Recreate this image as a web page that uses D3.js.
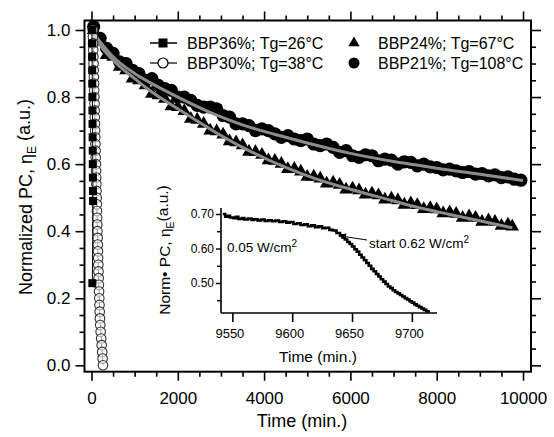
<!DOCTYPE html>
<html><head><meta charset="utf-8">
<script src="https://cdn.jsdelivr.net/npm/d3@7"></script>
<style>
body{margin:0;background:#fff}
text{font-family:"Liberation Sans",Arial,Helvetica,sans-serif;fill:#000}
</style>
</head><body><svg id="c" width="554" height="437"></svg>
<script>
// ---------- data ----------
const xTicks = [0, 2000, 4000, 6000, 8000, 10000];
const yTicks = [0.0, 0.2, 0.4, 0.6, 0.8, 1.0];
const seriesNames = ["BBP36%; Tg=26°C", "BBP30%; Tg=38°C", "BBP24%; Tg=67°C", "BBP21%; Tg=108°C"];

// BBP36% (filled squares, line)
const bbp36 = [[10,1.0],[12,0.96],[14,0.92],[16,0.88],[18,0.84],[20,0.80],[22,0.76],[24,0.72],[26,0.68],[28,0.64],[30,0.60],[32,0.56],[34,0.52],[36,0.49],[20,0.245]];

// BBP30% (open circles, line)
const bbp30 = [[30,1.00],[34,0.98],[37,0.96],[41,0.94],[44,0.92],[48,0.90],[52,0.88],[55,0.86],[59,0.84],[62,0.82],[66,0.80],[70,0.78],[73,0.76],[77,0.74],[80,0.72],[84,0.70],[88,0.68],[91,0.66],[95,0.64],[98,0.62],[102,0.60],[106,0.58],[109,0.56],[113,0.54],[116,0.52],[120,0.50],[124,0.48],[127,0.46],[131,0.44],[134,0.42],[138,0.40],[142,0.38],[146,0.36],[150,0.34],[154,0.32],[158,0.30],[162,0.28],[166,0.26],[171,0.24],[175,0.22],[180,0.20],[185,0.18],[190,0.16],[196,0.14],[203,0.12],[212,0.10],[224,0.08],[236,0.06],[248,0.04],[258,0.02],[266,0.00]];

// BBP24% (filled triangles)
const bbp24 = [[50,1.00],[200,0.965],[350,0.925],[500,0.92],[650,0.89],[800,0.88],[950,0.855],[1100,0.85],[1250,0.835],[1400,0.81],[1550,0.805],[1700,0.795],[1850,0.772],[2000,0.77],[2150,0.758],[2300,0.735],[2450,0.732],[2600,0.72],[2750,0.70],[2900,0.698],[3050,0.688],[3200,0.668],[3350,0.665],[3500,0.656],[3650,0.637],[3800,0.636],[3950,0.628],[4100,0.611],[4250,0.61],[4400,0.601],[4550,0.585],[4700,0.586],[4850,0.578],[5000,0.562],[5150,0.563],[5300,0.557],[5450,0.542],[5600,0.545],[5750,0.538],[5900,0.524],[6050,0.527],[6200,0.522],[6350,0.509],[6500,0.512],[6650,0.507],[6800,0.494],[6950,0.497],[7100,0.492],[7250,0.479],[7400,0.483],[7550,0.478],[7700,0.466],[7850,0.469],[8000,0.465],[8150,0.453],[8300,0.456],[8450,0.452],[8600,0.44],[8750,0.444],[8900,0.44],[9050,0.428],[9200,0.432],[9350,0.428],[9500,0.416],[9650,0.42],[9750,0.414]];

// BBP21% (filled circles)
const bbp21 = [[50,1.01],[200,0.975],[350,0.945],[500,0.93],[650,0.905],[800,0.90],[950,0.88],[1100,0.87],[1250,0.85],[1400,0.855],[1550,0.835],[1700,0.825],[1850,0.82],[2000,0.80],[2150,0.80],[2300,0.79],[2450,0.775],[2600,0.77],[2750,0.77],[2900,0.765],[3050,0.745],[3200,0.74],[3350,0.72],[3500,0.72],[3650,0.715],[3800,0.70],[3950,0.705],[4100,0.70],[4250,0.69],[4400,0.68],[4550,0.685],[4700,0.675],[4850,0.67],[5000,0.675],[5150,0.66],[5300,0.655],[5450,0.66],[5600,0.65],[5750,0.635],[5900,0.64],[6050,0.625],[6200,0.62],[6350,0.628],[6500,0.625],[6650,0.61],[6800,0.615],[6950,0.612],[7100,0.60],[7250,0.607],[7400,0.605],[7550,0.595],[7700,0.60],[7850,0.592],[8000,0.59],[8150,0.583],[8300,0.585],[8450,0.58],[8600,0.575],[8750,0.578],[8900,0.57],[9050,0.572],[9200,0.565],[9350,0.568],[9500,0.56],[9650,0.562],[9800,0.555],[9950,0.552]];

// gray fit curves
const fit21 = [[0,1.0],[200,0.965],[500,0.92],[1000,0.87],[1400,0.84],[2000,0.80],[2900,0.746],[3500,0.717],[4500,0.68],[5000,0.663],[6000,0.632],[7000,0.608],[7500,0.598],[8000,0.588],[9000,0.57],[10000,0.551]];
const fit24 = [[0,1.0],[200,0.955],[500,0.91],[1000,0.855],[1400,0.815],[2000,0.765],[2900,0.693],[3500,0.65],[4500,0.59],[5200,0.556],[6000,0.525],[6800,0.497],[7500,0.473],[8300,0.45],[9100,0.428],[9750,0.41]];

// inset
const insetXTicks = [9550, 9600, 9650, 9700];
const insetYTicks = [0.50, 0.60, 0.70];
const insetData = [[9542,0.700],[9544,0.692],[9546,0.695],[9548,0.690],[9551,0.688],[9553,0.692],[9555,0.686],[9558,0.688],[9560,0.684],[9563,0.687],[9566,0.683],[9568,0.685],[9571,0.681],[9574,0.684],[9577,0.680],[9580,0.682],[9583,0.679],[9586,0.681],[9589,0.677],[9592,0.679],[9595,0.675],[9598,0.677],[9601,0.671],[9604,0.673],[9607,0.668],[9610,0.670],[9613,0.665],[9616,0.667],[9619,0.662],[9622,0.664],[9625,0.659],[9628,0.660],[9631,0.654],[9634,0.652],[9637,0.645],[9640,0.638],[9642,0.632],[9644,0.626],[9646,0.619],[9648,0.613],[9650,0.606],[9652,0.598],[9654,0.591],[9656,0.582],[9658,0.574],[9660,0.566],[9662,0.558],[9664,0.550],[9666,0.541],[9668,0.534],[9670,0.526],[9672,0.519],[9674,0.511],[9676,0.504],[9678,0.497],[9680,0.490],[9682,0.485],[9684,0.479],[9686,0.474],[9688,0.470],[9690,0.465],[9692,0.461],[9694,0.456],[9696,0.452],[9698,0.447],[9700,0.443],[9702,0.438],[9704,0.434],[9706,0.430],[9708,0.426],[9710,0.422],[9712,0.418],[9714,0.414]];
const arrowAt = [9639, 0.637];

// ---------- drawing ----------
const svg = d3.select("#c");
const L = 84.5, R = 531, T = 20.5, B = 371.7;
const x = d3.scaleLinear().domain([-162, 10185]).range([L, R]);
const y = d3.scaleLinear().domain([-0.019, 1.0283]).range([B, T]);

const minorX = d3.range(0, 10001, 500).filter(v => v % 2000 !== 0);
const minorY = d3.range(0, 21).map(i => +(i * 0.05).toFixed(2)).filter(v => Math.abs(v * 5 - Math.round(v * 5)) > 1e-6);

function styleAxis(g, sw) {
  g.select(".domain").remove();
  g.selectAll("line").attr("stroke", "#000").attr("stroke-width", sw || 1.6);
}
// bottom
svg.append("g").attr("transform", `translate(0,${B})`)
  .call(d3.axisBottom(x).tickValues(xTicks).tickSize(9).tickPadding(11).tickFormat(d3.format("d")))
  .call(g => { styleAxis(g); g.selectAll("text").attr("font-size", 17).attr("font-family", "Liberation Sans, Arial"); });
svg.append("g").attr("transform", `translate(0,${B})`)
  .call(d3.axisBottom(x).tickValues(minorX).tickSize(5).tickFormat(""))
  .call(g => styleAxis(g));
// top
svg.append("g").attr("transform", `translate(0,${T})`)
  .call(d3.axisTop(x).tickValues(xTicks).tickSize(9).tickFormat(""))
  .call(g => styleAxis(g));
svg.append("g").attr("transform", `translate(0,${T})`)
  .call(d3.axisTop(x).tickValues(minorX).tickSize(5).tickFormat(""))
  .call(g => styleAxis(g));
// left
svg.append("g").attr("transform", `translate(${L},0)`)
  .call(d3.axisLeft(y).tickValues(yTicks).tickSize(9).tickPadding(5).tickFormat(d3.format(".1f")))
  .call(g => { styleAxis(g); g.selectAll("text").attr("font-size", 17).attr("font-family", "Liberation Sans, Arial"); });
svg.append("g").attr("transform", `translate(${L},0)`)
  .call(d3.axisLeft(y).tickValues(minorY).tickSize(5).tickFormat(""))
  .call(g => styleAxis(g));
// right
svg.append("g").attr("transform", `translate(${R},0)`)
  .call(d3.axisRight(y).tickValues(yTicks).tickSize(10).tickFormat(""))
  .call(g => styleAxis(g));
svg.append("g").attr("transform", `translate(${R},0)`)
  .call(d3.axisRight(y).tickValues(minorY).tickSize(5).tickFormat(""))
  .call(g => styleAxis(g));

// frame
svg.append("rect").attr("x", L).attr("y", T).attr("width", R - L).attr("height", B - T)
  .attr("fill", "none").attr("stroke", "#000").attr("stroke-width", 2);

// BBP24 triangles
const tri = d3.symbol().type(d3.symbolTriangle).size(80);
svg.append("g").selectAll("path").data(bbp24).join("path")
  .attr("d", tri).attr("transform", d => `translate(${x(d[0])},${y(d[1])})`).attr("fill", "#000");
// BBP21 circles
svg.append("g").selectAll("circle").data(bbp21).join("circle")
  .attr("cx", d => x(d[0])).attr("cy", d => y(d[1])).attr("r", 6.6).attr("fill", "#000");
// fits
const lineGen = d3.line().x(d => x(d[0])).y(d => y(d[1])).curve(d3.curveMonotoneX);
[fit21, fit24].forEach(f => svg.append("path").datum(f).attr("d", lineGen)
  .attr("fill", "none").attr("stroke", "#8c8c8c").attr("stroke-width", 3));

// BBP30 open circles
const lin = d3.line().x(d => x(d[0])).y(d => y(d[1]));
svg.append("path").datum(bbp30).attr("d", lin).attr("fill", "none").attr("stroke", "#000").attr("stroke-width", 1);
svg.append("g").selectAll("circle").data(bbp30).join("circle")
  .attr("cx", d => x(d[0])).attr("cy", d => y(d[1])).attr("r", 4.8)
  .attr("fill", "#fff").attr("fill-opacity", 0.6).attr("stroke", "#333").attr("stroke-width", 1.1);
// BBP36 squares
svg.append("path").datum(bbp36).attr("d", lin).attr("fill", "none").attr("stroke", "#000").attr("stroke-width", 1);
svg.append("g").selectAll("rect").data(bbp36).join("rect")
  .attr("x", d => x(d[0]) - 4).attr("y", d => y(d[1]) - 4).attr("width", 8).attr("height", 8).attr("fill", "#000");

// legend
const lg = svg.append("g");
const rows = [43, 63];
lg.append("line").attr("x1", 150).attr("x2", 177).attr("y1", rows[0]).attr("y2", rows[0]).attr("stroke", "#000").attr("stroke-width", 1.5);
lg.append("rect").attr("x", 158.5).attr("y", rows[0] - 4.5).attr("width", 9).attr("height", 9).attr("fill", "#000");
lg.append("line").attr("x1", 150).attr("x2", 177).attr("y1", rows[1]).attr("y2", rows[1]).attr("stroke", "#000").attr("stroke-width", 1.2);
lg.append("circle").attr("cx", 163).attr("cy", rows[1]).attr("r", 5).attr("fill", "#fff").attr("stroke", "#000").attr("stroke-width", 1.2);
lg.append("path").attr("d", d3.symbol().type(d3.symbolTriangle).size(55)).attr("transform", `translate(354,${rows[0]})`).attr("fill", "#000");
lg.append("circle").attr("cx", 354).attr("cy", rows[1]).attr("r", 5.5).attr("fill", "#000");
const lpos = [[187, rows[0]], [187, rows[1]], [378, rows[0]], [378, rows[1]]];
seriesNames.forEach((s, i) => lg.append("text").attr("x", lpos[i][0]).attr("y", lpos[i][1] + 6).attr("font-size", 16).text(s));

// axis titles
svg.append("text").attr("x", 302).attr("y", 427).attr("text-anchor", "middle").attr("font-size", 18).text("Time (min.)");
const yt = svg.append("text").attr("transform", "translate(32,197) rotate(-90)").attr("text-anchor", "middle").attr("font-size", 18);
yt.append("tspan").text("Normalized PC,  η");
yt.append("tspan").attr("font-size", 12).attr("dy", "0.35em").text("E");
yt.append("tspan").attr("dy", "-0.35em").text(" (a.u.)");

// ---------- inset ----------
const iL = 221, iR = 437, iT = 208, iB = 313;
const ix = d3.scaleLinear().domain([9540.5, 9721]).range([iL, iR]);
const iy = d3.scaleLinear().domain([0.413, 0.7174]).range([iB, iT]);
const ig = svg.append("g");
ig.append("g").attr("transform", `translate(0,${iB})`)
  .call(d3.axisBottom(ix).tickValues(insetXTicks).tickSize(9).tickPadding(7).tickFormat(d3.format("d")))
  .call(g => { g.select(".domain").attr("stroke-width", 1.6).attr("d", `M${iL},0H${iR}`);
    g.selectAll("line").attr("stroke-width", 1.6);
    g.selectAll("text").attr("font-size", 13).attr("dx", -3); });
ig.append("g").attr("transform", `translate(${iL},0)`)
  .call(d3.axisLeft(iy).tickValues(insetYTicks).tickSize(5).tickPadding(2).tickFormat(d3.format(".2f")))
  .call(g => { g.select(".domain").attr("stroke-width", 1.6).attr("d", `M0,${iT}V${iB}`);
    g.selectAll("line").attr("stroke-width", 1.4);
    g.selectAll("text").attr("font-size", 12); });
ig.append("g").attr("transform", `translate(${iL},0)`)
  .call(d3.axisLeft(iy).tickValues([0.45, 0.55, 0.65]).tickSize(4).tickFormat(""))
  .call(g => { g.select(".domain").remove(); g.selectAll("line").attr("stroke-width", 1.4); });

ig.append("path").datum(insetData)
  .attr("d", d3.line().x(d => ix(d[0])).y(d => iy(d[1])).curve(d3.curveStepAfter))
  .attr("fill", "none").attr("stroke", "#000").attr("stroke-width", 2.6);

ig.append("text").attr("x", 318).attr("y", 362).attr("text-anchor", "middle").attr("font-size", 15.5).text("Time (min.)");
const iyt = ig.append("text").attr("transform", "translate(170,250) rotate(-90)").attr("text-anchor", "middle").attr("font-size", 15.5);
iyt.append("tspan").text("Norm• PC, η");
iyt.append("tspan").attr("font-size", 10.5).attr("dy", "0.35em").text("E");
iyt.append("tspan").attr("dy", "-0.35em").text("(a.u.)");

const t1 = ig.append("text").attr("x", 227).attr("y", 252).attr("font-size", 13.5);
t1.append("tspan").text("0.05 W/cm");
t1.append("tspan").attr("font-size", 10).attr("dy", "-0.55em").text("2");
const t2 = ig.append("text").attr("x", 369).attr("y", 248).attr("font-size", 13.5);
t2.append("tspan").text("start 0.62 W/cm");
t2.append("tspan").attr("font-size", 10).attr("dy", "-0.55em").text("2");

// arrow
svg.append("defs").append("marker").attr("id", "ah").attr("viewBox", "0 0 10 10")
  .attr("refX", 10).attr("refY", 5).attr("markerWidth", 10).attr("markerHeight", 7)
  .attr("markerUnits", "userSpaceOnUse").attr("orient", "auto")
  .append("path").attr("d", "M0,0L10,5L0,10z").attr("fill", "#000");
ig.append("line").attr("x1", 367).attr("y1", 240)
  .attr("x2", ix(arrowAt[0])).attr("y2", iy(arrowAt[1]))
  .attr("stroke", "#000").attr("stroke-width", 1).attr("marker-end", "url(#ah)");
</script>
</body></html>
